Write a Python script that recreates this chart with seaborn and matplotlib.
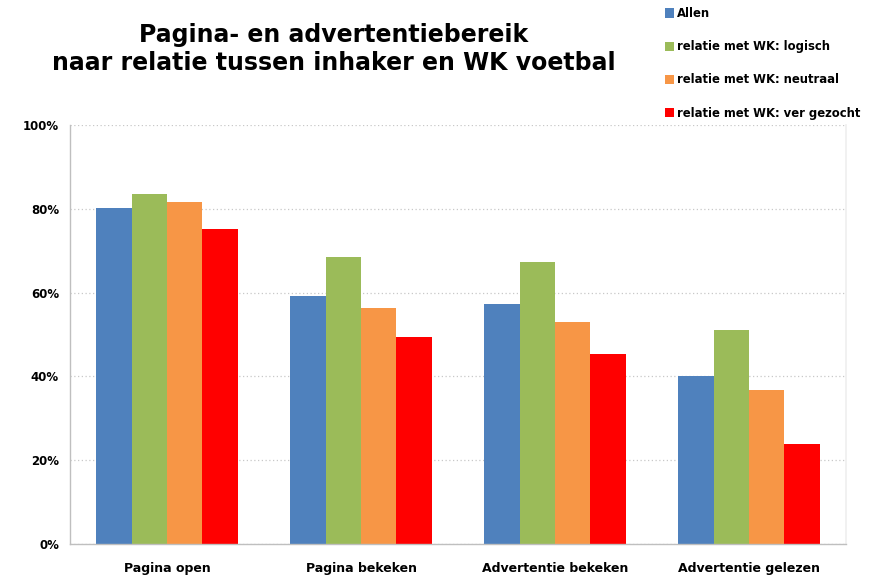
import matplotlib
matplotlib.use("Agg")
import matplotlib.pyplot as plt
import seaborn as sns
import pandas as pd
import numpy as np
from matplotlib.patches import Patch
from matplotlib.ticker import FixedLocator

categories = ["Pagina open", "Pagina bekeken", "Advertentie bekeken", "Advertentie gelezen"]
series = ["Allen", "relatie met WK: logisch", "relatie met WK: neutraal", "relatie met WK: ver gezocht"]
allen = [80.2, 59.1, 57.3, 40.0]
logisch = [83.6, 68.4, 67.4, 51.0]
neutraal = [81.7, 56.4, 53.1, 36.8]
ver_gezocht = [75.2, 49.3, 45.4, 23.9]
colors = ["#4F81BD", "#9BBB59", "#F79646", "#FF0000"]
yticks = [0, 20, 40, 60, 80, 100]
ytick_labels = ["0%", "20%", "40%", "60%", "80%", "100%"]
title = "Pagina- en advertentiebereik\nnaar relatie tussen inhaker en WK voetbal"

rows = []
for s, vals in zip(series, [allen, logisch, neutraal, ver_gezocht]):
    for c, v in zip(categories, vals):
        rows.append({"cat": c, "series": s, "val": v})
df = pd.DataFrame(rows)

sns.set_theme(style="white")
plt.rcParams["font.family"] = ["DejaVu Sans"]
plt.rcParams["text.color"] = "black"
plt.rcParams["xtick.color"] = "black"
plt.rcParams["ytick.color"] = "black"

fig = plt.figure(figsize=(8.73, 5.78), dpi=100)
ax = fig.add_axes([70 / 873, 34 / 578, 776 / 873, 419 / 578])

sns.barplot(data=df, x="cat", y="val", hue="series", order=categories,
            hue_order=series, palette=colors, width=0.73, gap=0,
            saturation=1, ax=ax, legend=False, linewidth=0)

ax.set_xlim(-0.5, len(categories) - 0.5)
ax.set_ylim(0, 100)
ax.set_yticks(yticks)
ax.set_yticklabels(ytick_labels, fontsize=8.5, fontweight="bold")
ax.set_xlabel("")
ax.set_ylabel("")
ax.set_xticks(range(len(categories)))
ax.set_xticklabels(categories, fontsize=9, fontweight="bold")
ax.tick_params(axis="x", length=0, pad=13, labelcolor="black")
ax.xaxis.set_minor_locator(FixedLocator(np.arange(-0.5, len(categories), 1.0)))
ax.tick_params(axis="x", which="minor", length=6, color="#BFBFBF", width=1, direction="out")
ax.tick_params(axis="y", length=5, color="#BFBFBF", width=1, direction="out", pad=3, labelcolor="black")

ax.grid(axis="y", linestyle=(0, (1, 2)), color="#C8C8C8", linewidth=0.9)
ax.set_axisbelow(True)
for side in ["left", "bottom"]:
    ax.spines[side].set_color("#BFBFBF")
    ax.spines[side].set_linewidth(1)
ax.spines["top"].set_visible(False)
ax.spines["right"].set_color("#F0F0F0")

fig.text(334 / 873, 1 - 49 / 578, title, ha="center", va="center",
         fontsize=17, fontweight="bold", linespacing=1.2, color="black")

handles = [Patch(facecolor=c, edgecolor="none") for c in colors]
fig.legend(handles, series, loc="upper left", bbox_to_anchor=(663 / 873, 1 - 5 / 578),
           frameon=False, prop={"size": 8.4, "weight": "bold"},
           labelspacing=1.72, handlelength=0.7, handleheight=0.9, handletextpad=0.3,
           borderaxespad=0, borderpad=0.2, labelcolor="black")

fig.savefig("out.png", dpi=100, facecolor="white")
